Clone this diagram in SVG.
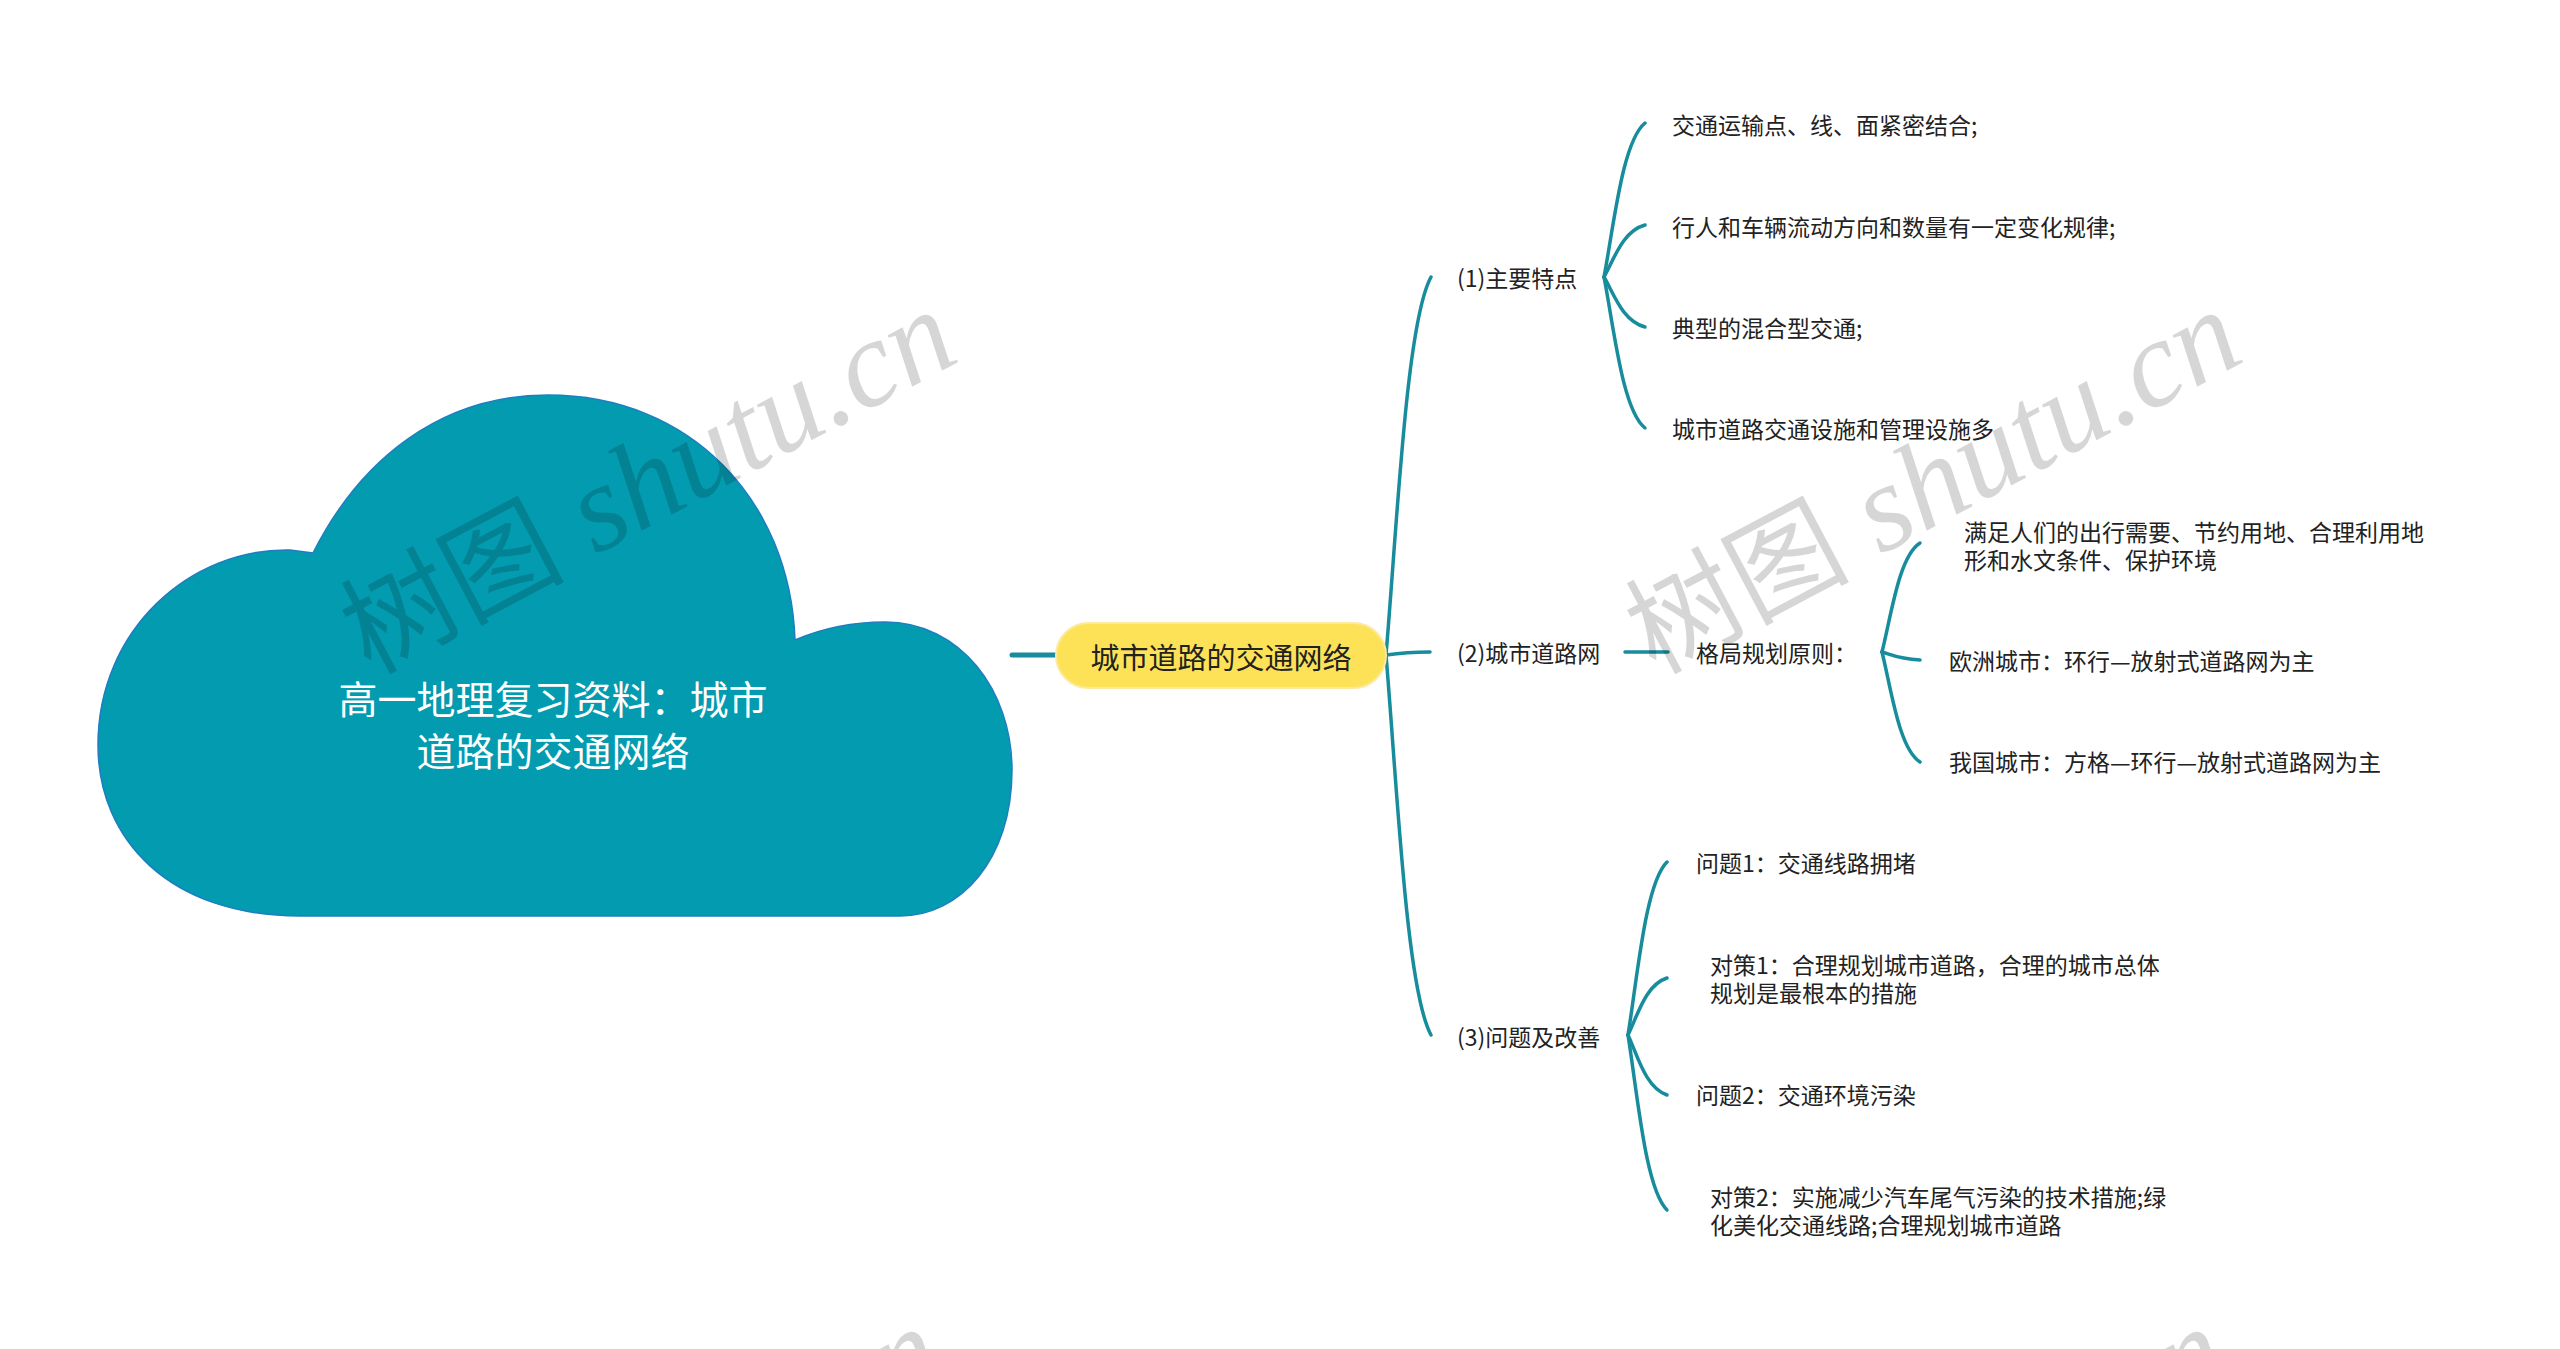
<svg xmlns="http://www.w3.org/2000/svg" width="2560" height="1349" viewBox="0 0 2560 1349">
<style>
.t{font-family:"Noto Sans CJK SC","Liberation Sans",sans-serif;font-size:23px;fill:#222;dominant-baseline:central}
.c{fill:none;stroke:#168C9C;stroke-width:3.5;stroke-linecap:round}
.wm{font-family:"Liberation Serif","Noto Sans CJK SC",serif;font-style:italic;font-size:124px;fill:#000;fill-opacity:0.16}
.wm tspan.cj{font-family:"Noto Sans CJK SC",sans-serif;font-style:normal;font-size:112px}
.rt{font-family:"Noto Sans CJK SC","Liberation Sans",sans-serif;font-size:39px;fill:#fff;dominant-baseline:central}
</style>
<rect width="2560" height="1349" fill="#fff"/>
<g id="connectors">
<path class="c" d="M1012,655 L1055,655" style="stroke-width:5"/>
<path class="c" d="M1386,655 C1397.25,522.7 1406.25,322.4 1431,277"/>
<path class="c" d="M1386,655 C1400,653 1415,652 1430,652"/>
<path class="c" d="M1386,655 C1397.25,788 1406.25,989.4 1431,1035"/>
<path class="c" d="M1604,277 C1614.25,223.1 1622.45,141.5 1645,123"/>
<path class="c" d="M1604,277 C1614.25,258.8 1622.45,231.2 1645,225"/>
<path class="c" d="M1604,277 C1614.25,294.5 1622.45,321 1645,327"/>
<path class="c" d="M1604,277 C1614.25,329.9 1622.45,409.9 1645,428"/>
<path class="c" d="M1625,652 L1668,652"/>
<path class="c" d="M1882,652 C1891.5,613.9 1899.1,556.1 1920,543"/>
<path class="c" d="M1882,652 C1891.5,654.8 1899.1,659 1920,660"/>
<path class="c" d="M1882,652 C1891.5,690.5 1899.1,748.8 1920,762"/>
<path class="c" d="M1628,1035 C1637.75,974.5 1645.55,882.8 1667,862"/>
<path class="c" d="M1628,1035 C1637.75,1015 1645.55,984.8 1667,978"/>
<path class="c" d="M1628,1035 C1637.75,1056 1645.55,1087.8 1667,1095"/>
<path class="c" d="M1628,1035 C1637.75,1096.25 1645.55,1189 1667,1210"/>
</g>
<g id="root">
<path d="M300,916 C170,916 98,840 98,745 C98,630 190,548 290,550 L313,553 C360,460 440,395 548,395 C690,395 790,500 795,640 C830,625 860,622 885,622 C960,622 1012,690 1012,770 C1012,860 960,916 900,916 Z" fill="#039BB0" stroke="#1E7EC0" stroke-width="1.5"/>
<text x="553" y="697" class="rt" text-anchor="middle">高一地理复习资料：城市</text>
<text x="553" y="749" class="rt" text-anchor="middle">道路的交通网络</text>
</g>
<g id="center">
<rect x="1056" y="623" width="330" height="65" rx="32.5" fill="#FDE257" stroke="#FBEBA0" stroke-width="2"/>
<text x="1221" y="656" class="t" style="font-size:29px" text-anchor="middle">城市道路的交通网络</text>
</g>
<g id="n1"><text class="t" x="1457" y="277">(1)主要特点</text></g>
<g id="n1a"><text class="t" x="1672" y="124">交通运输点、线、面紧密结合;</text></g>
<g id="n1b"><text class="t" x="1672" y="226">行人和车辆流动方向和数量有一定变化规律;</text></g>
<g id="n1c"><text class="t" x="1672" y="327">典型的混合型交通;</text></g>
<g id="n1d"><text class="t" x="1672" y="428">城市道路交通设施和管理设施多</text></g>
<g id="n2"><text class="t" x="1457" y="652">(2)城市道路网</text></g>
<g id="n2x"><text class="t" x="1696" y="652">格局规划原则：</text></g>
<g id="n2a"><text class="t" x="1964" y="531">满足人们的出行需要、节约用地、合理利用地</text><text class="t" x="1964" y="559">形和水文条件、保护环境</text></g>
<g id="n2b"><text class="t" x="1949" y="660">欧洲城市：环行—放射式道路网为主</text></g>
<g id="n2c"><text class="t" x="1949" y="761">我国城市：方格—环行—放射式道路网为主</text></g>
<g id="n3"><text class="t" x="1457" y="1036">(3)问题及改善</text></g>
<g id="n3a"><text class="t" x="1696" y="862">问题1：交通线路拥堵</text></g>
<g id="n3b"><text class="t" x="1710" y="964">对策1：合理规划城市道路，合理的城市总体</text><text class="t" x="1710" y="992">规划是最根本的措施</text></g>
<g id="n3c"><text class="t" x="1696" y="1094">问题2：交通环境污染</text></g>
<g id="n3d"><text class="t" x="1710" y="1196">对策2：实施减少汽车尾气污染的技术措施;绿</text><text class="t" x="1710" y="1224">化美化交通线路;合理规划城市道路</text></g>
<g id="watermarks">
<text class="wm" transform="translate(370,675) rotate(-28)"><tspan class="cj">树图</tspan> shutu.cn</text>
<text class="wm" transform="translate(1655,675) rotate(-28)"><tspan class="cj">树图</tspan> shutu.cn</text>
<text class="wm" transform="translate(356,1692) rotate(-28)"><tspan class="cj">树图</tspan> shutu.cn</text>
<text class="wm" transform="translate(1641,1692) rotate(-28)"><tspan class="cj">树图</tspan> shutu.cn</text>
</g>
</svg>
